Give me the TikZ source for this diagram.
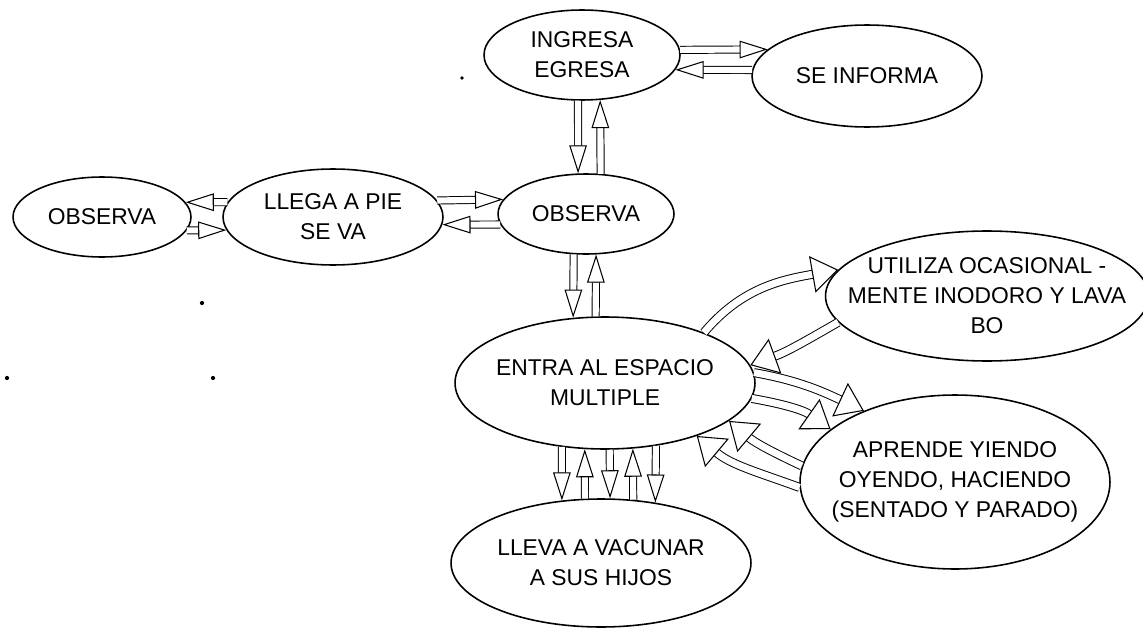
\documentclass[tikz,border=0pt]{standalone}
\usepackage{fontspec}
\setmainfont{Liberation Sans}
\usetikzlibrary{shapes.geometric,arrows.meta}

\begin{document}
\begin{tikzpicture}[x=0.02cm,y=0.02cm,
  act/.style={draw, ellipse, line width=0.9pt, inner sep=-0.5cm, align=center, font=\fontsize{13}{17}\selectfont},
  flecha/.style={double, double distance=3.5pt, line width=0.55pt, -{Triangle[open, length=16pt, width=10pt, line width=0.6pt]}},
  curva/.style={double, double distance=4pt, line width=0.55pt, -{Triangle[open, length=15pt, width=21pt, line width=0.6pt]}}]
\useasboundingbox (0,0) rectangle (1143,-632);
% ellipses:
\node[act, minimum width=3.92cm, minimum height=1.8cm] (ingresa) at (582,-55) {INGRESA\\EGRESA};
\node[act, minimum width=4.6cm, minimum height=2.04cm] (seinf) at (867,-76) {SE INFORMA};
\node[act, minimum width=3.56cm, minimum height=1.6cm] (obsl) at (102,-217) {OBSERVA};
\node[act, minimum width=4.4cm, minimum height=1.92cm] (llega) at (333,-217) {LLEGA A PIE\\SE VA};
\node[act, minimum width=3.52cm, minimum height=1.6cm] (obsm) at (586,-214) {OBSERVA};
\node[act, minimum width=6cm, minimum height=2.64cm] (entra) at (605,-383) {ENTRA AL ESPACIO\\MULTIPLE};
\node[act, minimum width=6.16cm, minimum height=2.6cm] (utiliza) at (987,-296) {UTILIZA OCASIONAL -\\MENTE INODORO Y LAVA\\BO};
\node[act, minimum width=6.2cm, minimum height=3.48cm] (aprende) at (955,-482) {APRENDE YIENDO\\OYENDO, HACIENDO\\(SENTADO Y PARADO)};
\node[act, minimum width=6cm, minimum height=2.56cm] (lleva) at (601,-563) {LLEVA A VACUNAR\\A SUS HIJOS};
% top arrows:
\draw[flecha] (ingresa.3) -- (seinf.165);
\draw[flecha] (seinf.177) -- (ingresa.351);
\draw[flecha] (ingresa.265) -- (obsm.101);
\draw[flecha] (obsm.70) -- (ingresa.292);
% left arrows:
\draw[flecha] (llega.9) -- (obsm.170);
\draw[flecha] (obsm.187) -- (llega.356);
\draw[flecha] (llega.172) -- (obsl.10);
\draw[flecha] (obsl.351) -- (llega.187);
% middle arrows:
\draw[flecha] (obsm.253) -- (entra.116);
\draw[flecha] (entra.98) -- (obsm.284);
% lower arrows:
\foreach \a/\b in {236/122, 274/82, 309/48} \draw[flecha] (entra.\a) -- (lleva.\b);
\foreach \a/\b in {104/253, 63/293} \draw[flecha] (lleva.\a) -- (entra.\b);
% curved arrows:
\draw[curva] (entra.27) to[out=50,in=190] (utiliza.170);
\draw[curva] (utiliza.190) to[out=210,in=20] (entra.7);
\draw[curva] (entra.4) to[out=-10,in=155] (aprende.142);
\draw[curva] (entra.354) to[out=-10,in=145] (aprende.157);
\draw[curva] (aprende.174) to[out=155,in=-40] (entra.343);
\draw[curva] (aprende.182) to[out=160,in=-40] (entra.330);
% dots:
\fill (202,-303) circle (1.2pt) (7,-378) circle (1.2pt) (213,-378) circle (1.2pt) (462,-78) circle (1pt);
\end{tikzpicture}
\end{document}
